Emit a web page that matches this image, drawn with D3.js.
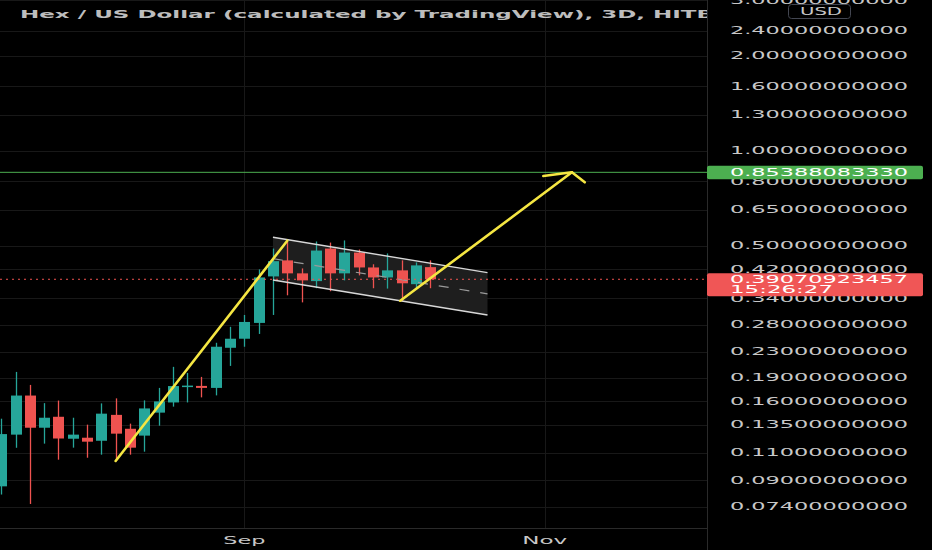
<!DOCTYPE html>
<html><head><meta charset="utf-8">
<script src="https://cdn.jsdelivr.net/npm/d3@7"></script>
<style>html,body{margin:0;padding:0;background:#000;overflow:hidden}svg{display:block}</style>
</head><body>
<svg id="c" width="932" height="550"></svg>
<script>
// ---- data ----
const dates = ["Jul 12","Jul 15","Jul 18","Jul 21","Jul 24","Jul 27","Jul 30","Aug 2","Aug 5","Aug 8","Aug 11","Aug 14","Aug 17","Aug 20","Aug 23","Aug 26","Aug 29","Sep 1","Sep 4","Sep 7","Sep 10","Sep 13","Sep 16","Sep 19","Sep 22","Sep 25","Sep 28","Oct 1","Oct 4","Oct 7","Oct 10"];
const openP  = [0.086,0.1255,0.167,0.132,0.143,0.1218,0.1227,0.120,0.145,0.131,0.1246,0.1474,0.1588,0.1783,0.1792,0.1766,0.2368,0.253,0.284,0.399,0.4486,0.408,0.3855,0.489,0.408,0.475,0.426,0.396,0.417,0.377,0.427];
const highP  = [0.141,0.1985,0.1805,0.158,0.161,0.142,0.135,0.1577,0.1636,0.136,0.1612,0.1766,0.206,0.197,0.1914,0.2456,0.276,0.301,0.42,0.489,0.515,0.423,0.515,0.511,0.519,0.4856,0.436,0.472,0.4486,0.442,0.4486];
const lowP   = [0.081,0.114,0.0756,0.1175,0.1045,0.1141,0.106,0.1084,0.1037,0.1084,0.1108,0.134,0.154,0.1588,0.1648,0.1672,0.2074,0.2386,0.262,0.301,0.3475,0.330,0.366,0.358,0.3876,0.402,0.366,0.365,0.3326,0.365,0.366];
const closeP = [0.126,0.167,0.132,0.142,0.122,0.1255,0.1192,0.1463,0.1264,0.1141,0.152,0.16,0.179,0.1796,0.1766,0.2386,0.253,0.286,0.396,0.446,0.408,0.3876,0.482,0.408,0.475,0.426,0.396,0.417,0.3794,0.4325,0.39070923457];

const priceTicks = [3.0,2.4,2.0,1.6,1.3,1.0,0.8,0.65,0.5,0.42,0.34,0.28,0.23,0.19,0.16,0.135,0.11,0.09,0.074];
const xTickLabels = ["Sep","Nov"];
const xTickIndex = [17,38];

const titleText = "Hex / US Dollar (calculated by TradingView), 3D, HITBTC";
const currencyLabel = "USD";
const lastPrice = 0.39070923457;
const lastPriceLabel = "0.39070923457";
const countdownLabel = "15:26:27";
const targetPrice = 0.85388083330;
const targetLabel = "0.85388083330";

// drawings in (bar index, price)
const impulseLine = [[8,0.1035],[20,0.518]];
const channelTop = [[19,0.5311],[34,0.4101]];
const channelBottom = [[19,0.3887],[34,0.3009]];
const arrowLine = [[27.9,0.3341],[39.9,0.854]];
const arrowHeadLeft = [37.9,0.831];
const arrowHeadRight = [40.8,0.7938];

// ---- layout ----
const W = 932, H = 550, plotR = 707, plotB = 528;
const svg = d3.select("#c");
const x = d3.scaleLinear().domain([0,30]).range([1.2,430.3]);
const y = d3.scaleLog().domain([0.06342,3.0095]).range([plotB,0]);

svg.append("rect").attr("width",W).attr("height",H).attr("fill","#000");
svg.append("defs").append("clipPath").attr("id","plot")
  .append("rect").attr("x",0).attr("y",0).attr("width",plotR).attr("height",plotB);

const g = svg.append("g").attr("clip-path","url(#plot)");

// grid
g.selectAll("line.hg").data(priceTicks).join("line").attr("class","hg")
  .attr("x1",0).attr("x2",plotR).attr("y1",d=>Math.round(y(d))+0.5).attr("y2",d=>Math.round(y(d))+0.5)
  .attr("stroke","#181818").attr("stroke-width",1);
g.selectAll("line.vg").data(xTickIndex).join("line").attr("class","vg")
  .attr("y1",0).attr("y2",plotB).attr("x1",d=>Math.round(x(d))+0.5).attr("x2",d=>Math.round(x(d))+0.5)
  .attr("stroke","#181818").attr("stroke-width",1);

// target line
g.append("line").attr("x1",0).attr("x2",plotR)
  .attr("y1",y(targetPrice)).attr("y2",y(targetPrice))
  .attr("stroke","#4caf50").attr("stroke-width",1);

// channel
const poly = [channelTop[0],channelTop[1],channelBottom[1],channelBottom[0]];
g.append("polygon").attr("points",poly.map(p=>[x(p[0]),y(p[1])].join(",")).join(" "))
  .attr("fill","#1e1e1e");

// candles
const data = dates.map((d,i)=>({d,i,o:openP[i],h:highP[i],l:lowP[i],c:closeP[i]}));
const up = "#26a69a", dn = "#ef5350";
const cg = g.append("g");
cg.selectAll("line.wick").data(data).join("line").attr("class","wick")
  .attr("x1",d=>Math.round(x(d.i))+0.5).attr("x2",d=>Math.round(x(d.i))+0.5)
  .attr("y1",d=>y(d.h)).attr("y2",d=>y(d.l))
  .attr("stroke",d=>d.c>=d.o?up:dn).attr("stroke-width",1.3);
cg.selectAll("rect.body").data(data).join("rect").attr("class","body")
  .attr("x",d=>Math.round(x(d.i))-5).attr("width",11)
  .attr("y",d=>y(Math.max(d.o,d.c)))
  .attr("height",d=>Math.max(1.5,y(Math.min(d.o,d.c))-y(Math.max(d.o,d.c))))
  .attr("fill",d=>d.c>=d.o?up:dn);

// channel lines
[channelTop,channelBottom].forEach(l=>{
  g.append("line").attr("x1",x(l[0][0])).attr("y1",y(l[0][1])).attr("x2",x(l[1][0])).attr("y2",y(l[1][1]))
    .attr("stroke","#d8d8d8").attr("stroke-width",1.4);
});
g.append("line")
  .attr("x1",x(channelTop[0][0])).attr("y1",(y(channelTop[0][1])+y(channelBottom[0][1]))/2)
  .attr("x2",x(channelTop[1][0])).attr("y2",(y(channelTop[1][1])+y(channelBottom[1][1]))/2)
  .attr("stroke","#9a9a9a").attr("stroke-width",1.2).attr("stroke-dasharray","10,11");

// last price dotted line
g.append("line").attr("x1",0).attr("x2",plotR)
  .attr("y1",y(lastPrice)).attr("y2",y(lastPrice))
  .attr("stroke","#ef5350").attr("stroke-width",1).attr("stroke-dasharray","2,4");

// yellow drawings
const yel = "#f5e642";
const ln = (a,b)=>g.append("line").attr("x1",x(a[0])).attr("y1",y(a[1])).attr("x2",x(b[0])).attr("y2",y(b[1]))
  .attr("stroke",yel).attr("stroke-width",2.6).attr("stroke-linecap","round");
ln(impulseLine[0],impulseLine[1]);
ln(arrowLine[0],arrowLine[1]);
ln(arrowLine[1],arrowHeadLeft);
ln(arrowLine[1],arrowHeadRight);

// title
const font = "DejaVu Sans, sans-serif";
const title = g.append("text").attr("font-family",font).attr("font-size",11).attr("font-weight","bold")
  .attr("fill","#bdbdbd").attr("dominant-baseline","central").text(titleText);
// stretch title so "HIT" ends near the axis edge
const tmp = svg.append("text").attr("font-family",font).attr("font-size",11).attr("font-weight","bold")
  .text("Hex / US Dollar (calculated by TradingView), 3D, HIT");
const sx = (697-20)/tmp.node().getComputedTextLength();
tmp.remove();
title.attr("transform",`translate(20,14) scale(${sx},1)`);

// axis panel borders
svg.append("line").attr("x1",0).attr("x2",plotR).attr("y1",plotB+0.5).attr("y2",plotB+0.5).attr("stroke","#2a2a2a");
svg.append("line").attr("x1",plotR+0.5).attr("x2",plotR+0.5).attr("y1",0).attr("y2",H).attr("stroke","#2a2a2a");

// price axis labels
const fmt = d3.format(".11f");
const ax = svg.append("g");
ax.selectAll("text").data(priceTicks).join("text")
  .attr("x",730).attr("y",d=>y(d)).attr("dominant-baseline","central")
  .attr("font-family",font).attr("font-size",10).attr("fill","#c8c8c8")
  .attr("textLength",178).attr("lengthAdjust","spacingAndGlyphs")
  .text(d=>fmt(d));

// USD badge
svg.append("rect").attr("x",788.5).attr("y",4.5).attr("width",62).attr("height",14).attr("rx",3)
  .attr("fill","#000").attr("stroke","#434651");
svg.append("text").attr("x",800).attr("y",11.8).attr("dominant-baseline","central")
  .attr("font-family",font).attr("font-size",10).attr("fill","#c8c8c8")
  .attr("textLength",42).attr("lengthAdjust","spacingAndGlyphs").text(currencyLabel);

// target label
svg.append("rect").attr("x",707).attr("y",y(targetPrice)-6.6).attr("width",216).attr("height",13.4).attr("rx",2)
  .attr("fill","#4caf50");
svg.append("text").attr("x",730).attr("y",y(targetPrice)).attr("dominant-baseline","central")
  .attr("font-family",font).attr("font-size",10).attr("fill","#fff")
  .attr("textLength",178).attr("lengthAdjust","spacingAndGlyphs").text(targetLabel);

// last price label
const ly = y(lastPrice);
svg.append("rect").attr("x",707).attr("y",ly-6).attr("width",216).attr("height",23).attr("rx",2)
  .attr("fill","#f05656");
svg.append("text").attr("x",730).attr("y",ly).attr("dominant-baseline","central")
  .attr("font-family",font).attr("font-size",10).attr("fill","#fff")
  .attr("textLength",178).attr("lengthAdjust","spacingAndGlyphs").text(lastPriceLabel);
svg.append("text").attr("x",730).attr("y",ly+10.5).attr("dominant-baseline","central")
  .attr("font-family",font).attr("font-size",10).attr("fill","#fff")
  .attr("textLength",103).attr("lengthAdjust","spacingAndGlyphs").text(countdownLabel);

// time axis labels
svg.selectAll("text.xt").data(xTickIndex).join("text").attr("class","xt")
  .attr("x",d=>x(d)).attr("y",540).attr("text-anchor","middle").attr("dominant-baseline","central")
  .attr("font-family",font).attr("font-size",10.5).attr("fill","#c8c8c8")
  .attr("textLength",(d,i)=>i===0?42:45).attr("lengthAdjust","spacingAndGlyphs")
  .text((d,i)=>xTickLabels[i]);
</script>
</body></html>
